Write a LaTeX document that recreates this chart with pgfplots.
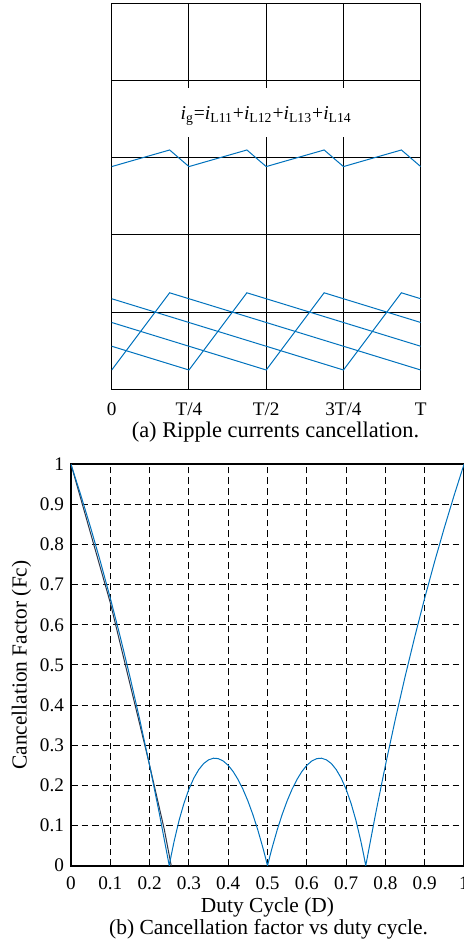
\documentclass[border=0pt]{standalone}
\usepackage{fontspec}
\setmainfont{Liberation Serif}
\usepackage{pgfplots}
\pgfplotsset{compat=1.18}
\definecolor{mblue}{RGB}{0,114,189}
\definecolor{mdark}{RGB}{45,55,75}
\newcommand\fs[1]{\fontsize{#1}{1.2\dimexpr#1\relax}\selectfont}

\begin{document}
\begin{tikzpicture}
% (a) ripple currents
\begin{axis}[
    at={(55.85pt,276.35pt)}, anchor=south west,
    scale only axis, width=154.5pt, height=193pt,
    xmin=0, xmax=4, ymin=0, ymax=5,
    xtick={0,1,2,3,4}, xticklabels={0,T/4,T/2,3T/4,T},
    ytick={0,1,2,3,4,5}, yticklabels={},
    grid=major, major grid style={black, line width=0.5pt},
    axis line style={black, line width=0.5pt},
    major tick length=0pt,
    tick label style={font=\fs{9.6pt}},
    xticklabel style={anchor=base, yshift=-13.3pt},
    /pgf/number format/assume math mode=true,
  ]
  \addplot[mblue, line width=0.5pt] coordinates {(0,2.885) (0.75,3.10) (1,2.885) (1.75,3.10) (2,2.885) (2.75,3.10) (3,2.885) (3.75,3.10) (4,2.885)};
  \addplot[mblue, line width=0.5pt] coordinates {(0,0.25) (0.75,1.25) (4,0.25)};
  \addplot[mblue, line width=0.5pt] coordinates {(0,0.5577) (1,0.25) (1.75,1.25) (4,0.5577)};
  \addplot[mblue, line width=0.5pt] coordinates {(0,0.8654) (2,0.25) (2.75,1.25) (4,0.8654)};
  \addplot[mblue, line width=0.5pt] coordinates {(0,1.1731) (3,0.25) (3.75,1.25) (4,1.1731)};
  \node[fill=white, anchor=base, inner xsep=2pt, inner ysep=5pt, text height=11pt, text depth=3.5pt, font=\fs{9.8pt}]
    at (axis cs:2,3.49) {\textit{i}\textsubscript{g}=\textit{i}\textsubscript{L11}+\textit{i}\textsubscript{L12}+\textit{i}\textsubscript{L13}+\textit{i}\textsubscript{L14}};
\end{axis}
\node[anchor=base, font=\fs{11.2pt}] at (137.75pt,252.25pt) {(a) Ripple currents cancellation.};

% (b) cancellation factor
\begin{axis}[
    at={(35.5pt,38.15pt)}, anchor=south west,
    scale only axis, width=196.5pt, height=200.7pt,
    xmin=0, xmax=1, ymin=0, ymax=1,
    xtick={0,0.1,0.2,0.3,0.4,0.5,0.6,0.7,0.8,0.9,1},
    xticklabels={0,0.1,0.2,0.3,0.4,0.5,0.6,0.7,0.8,0.9,1},
    ytick={0,0.1,0.2,0.3,0.4,0.5,0.6,0.7,0.8,0.9,1},
    yticklabels={0,0.1,0.2,0.3,0.4,0.5,0.6,0.7,0.8,0.9,1},
    grid=major, major grid style={black, line width=0.5pt, dash pattern=on 3.3pt off 2pt},
    axis line style={black, line width=1pt},
    major tick length=0pt,
    tick label style={font=\fs{9.6pt}},
    xticklabel style={anchor=base, yshift=-11.8pt},
    label style={font=\fs{10.7pt}},
    xlabel={Duty Cycle (D)},
    xlabel style={at={(axis description cs:0.5,0)}, anchor=base, yshift=-23.3pt},
    ylabel={Cancellation Factor (Fc)},
    ylabel shift=-2.5pt,
    /pgf/number format/assume math mode=true,
  ]
  \addplot[mdark, line width=0.5pt] coordinates {(0,1) (0.1,0.655) (0.197,0.263) (0.2375,0.09) (0.256,-0.005)};
  \addplot[mblue, line width=0.5pt] coordinates {
    (0,1) (0.025,0.9231) (0.05,0.8421) (0.075,0.7568) (0.1,0.6667) (0.125,0.5714)
    (0.15,0.4706) (0.175,0.3636) (0.2,0.25) (0.225,0.1290) (0.25,0)
    (0.255,0.0258) (0.2625,0.0613) (0.275,0.1129) (0.2875,0.1556) (0.3,0.1905)
    (0.3125,0.2182) (0.325,0.2393) (0.3375,0.2544) (0.35,0.2637) (0.3625,0.2678)
    (0.375,0.2667) (0.3875,0.2607) (0.4,0.25) (0.4125,0.2347) (0.425,0.2148)
    (0.4375,0.1905) (0.45,0.1616) (0.4625,0.1282) (0.475,0.0902) (0.4875,0.0475)
    (0.495,0.0196) (0.5,0)
    (0.505,0.0196) (0.5125,0.0475) (0.525,0.0902) (0.5375,0.1282) (0.55,0.1616)
    (0.5625,0.1905) (0.575,0.2148) (0.5875,0.2347) (0.6,0.25) (0.6125,0.2607)
    (0.625,0.2667) (0.6375,0.2678) (0.65,0.2637) (0.6625,0.2544) (0.675,0.2393)
    (0.6875,0.2182) (0.7,0.1905) (0.7125,0.1556) (0.725,0.1129) (0.7375,0.0613)
    (0.745,0.0258) (0.75,0)
    (0.775,0.1290) (0.8,0.25) (0.825,0.3636) (0.85,0.4706) (0.875,0.5714)
    (0.9,0.6667) (0.925,0.7568) (0.95,0.8421) (0.975,0.9231) (1,1)};
\end{axis}
\node[anchor=base, font=\fs{10.75pt}] at (134.25pt,4pt) {(b) Cancellation factor vs duty cycle.};

\pgfresetboundingbox
\useasboundingbox (0,0) rectangle (232pt,471pt);
\end{tikzpicture}
\end{document}
